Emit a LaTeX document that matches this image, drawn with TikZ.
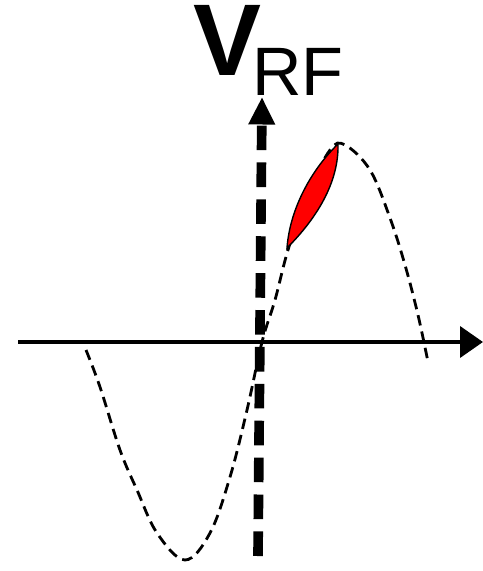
\documentclass[tikz,border=0pt]{standalone}
\usepackage{fontspec}
\setmainfont{Liberation Sans}
\usetikzlibrary{arrows.meta}

\tikzset{
  haxis/.style={
    line width=2.2pt,
    -{Triangle[length=0.46cm,width=0.62cm]}
  },
  vaxis/.style={
    line width=5.5pt,
    dash pattern=on 14pt off 7pt,
    -{Triangle[length=0.55cm,width=0.5cm]}
  },
  wave/.style={
    line width=1.6pt,
    dash pattern=on 6pt off 3.5pt
  },
  slice/.style={
    fill=red,
    draw=black,
    line width=0.8pt
  }
}

\begin{document}
\begin{tikzpicture}[x=0.02cm,y=-0.02cm]
  \useasboundingbox (0,0) rectangle (483,571);

  \coordinate (xl) at (18,342);
  \coordinate (xr) at (483,342);
  \draw[haxis] (xl) -- (xr);

  \coordinate (yb) at (258,556);
  \coordinate (yt) at (262,97);
  \draw[vaxis] (yb) -- (yt);

  \draw[wave] plot [smooth, tension=0.6] coordinates {(86,350) (100,387) (120,450) (137,490) (157,533) (185,560) (210,533) (230,477) (247,410) (262,342) (275,300) (288,250) (307,195) (330,150) (345,145) (370,170) (390,218) (405,265) (418,315) (428,362)};

  \draw[slice] (287,248) .. controls (290,207) and (313,168) .. (338,144) .. controls (339,183) and (316,219) .. (287,248) -- cycle;

  \node[font=\bfseries\fontsize{58}{58}\selectfont, inner sep=0pt] (vlabel) at (227,40) {V};
  \node[font=\fontsize{39}{39}\selectfont, inner sep=0pt] (rflabel) at (298,72) {RF};
\end{tikzpicture}
\end{document}
